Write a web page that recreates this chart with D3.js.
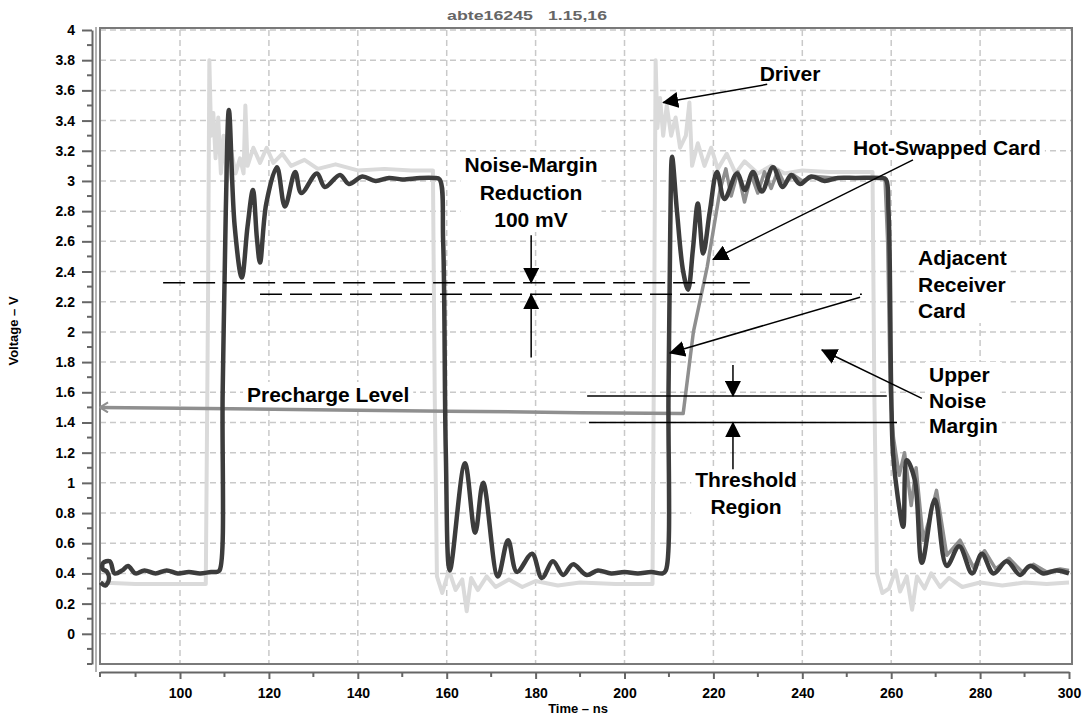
<!DOCTYPE html>
<html>
<head>
<meta charset="utf-8">
<script src="https://cdn.jsdelivr.net/npm/d3@7"></script>
<style>
  body { margin: 0; background: #fff; }
  svg { display: block; font-family: "Liberation Sans", Arial, sans-serif; }
</style>
</head>
<body>
<svg id="chart" width="1083" height="717"></svg>
<script>
// DATA SECTION

let xTicks = [100, 120, 140, 160, 180, 200, 220, 240, 260, 280, 300];
let yTicks = [0, 0.2, 0.4, 0.6, 0.8, 1, 1.2, 1.4, 1.6, 1.8, 2, 2.2, 2.4, 2.6, 2.8, 3, 3.2, 3.4, 3.6, 3.8, 4];
let titleParts = ['abte16245', '1.15,16'];

// [time ns, volts]
let driver = [
  [82,0.34],[90,0.33],[98,0.33],[105.8,0.33],[106.3,2.2],[106.6,3.8],[107.0,3.3],[107.5,3.45],
  [108.0,3.15],[108.6,3.42],[109.2,3.05],[109.8,3.3],[110.6,3.0],[111.5,3.2],[112.5,3.05],[113.5,3.15],
  [114.3,3.05],[114.7,3.5],[115.2,3.1],[116.5,3.22],[118,3.12],[119.5,3.22],[121,3.12],[123,3.18],
  [125,3.1],[128,3.14],[131,3.08],[135,3.11],[140,3.07],[146,3.08],[152,3.07],[156.9,3.07],
  [157.3,1.6],[157.8,0.38],[159,0.27],[160.5,0.42],[162,0.29],[163.5,0.36],[164.5,0.15],[165.5,0.37],
  [167,0.29],[169,0.38],[171,0.31],[174,0.36],[177,0.31],[180,0.35],[185,0.32],[190,0.34],
  [198,0.33],[206.3,0.33],[206.7,2.2],[207,3.8],[207.4,3.35],[208,3.55],[208.7,3.3],[209.5,3.5],
  [210.5,3.3],[211.5,3.42],[212.5,3.22],[213.8,3.3],[214.6,3.52],[215.2,3.1],[216.5,3.25],[218,3.1],
  [219.5,3.22],[221,3.08],[223,3.18],[225,3.05],[227,3.13],[230,3.05],[233,3.1],[236,3.05],
  [240,3.07],[246,3.06],[252,3.06],[255.8,3.06],[256.2,1.6],[256.8,0.4],[258,0.27],[259.5,0.3],
  [261,0.42],[262,0.28],[263.5,0.38],[264.7,0.16],[265.8,0.38],[267.5,0.3],[269,0.4],[271,0.31],
  [273,0.37],[276,0.31],[280,0.34],[285,0.32],[290,0.34],[295,0.33],[300,0.34]
];

let hotSwapped = [
  [82,1.5],[100,1.495],[130,1.485],[160,1.475],[190,1.465],[213.2,1.46],[215.5,2.0],[218.6,2.43],
  [221.5,2.94],[222.8,3.08],[224,2.9],[225.5,3.06],[227,2.86],[228.5,3.04],[230,2.92],[231.5,3.06],
  [233,2.95],[234.5,3.07],[236,2.98],[238,3.04],[240,3.0],[243,3.03],[247,3.02],[258.6,3.02],
  [259.2,2.6],[259.8,1.6],[260.5,1.3],[261.8,1.05],[263,1.2],[264.5,0.85],[265.6,1.1],[267.2,0.62],
  [268.5,0.75],[270.2,0.95],[272.5,0.52],[275.5,0.62],[278.5,0.44],[281,0.55],[283.5,0.43],[286.5,0.5],
  [289.5,0.41],[292,0.46],[295,0.41],[298,0.43],[300,0.42]
];

let adjacent = [
  [82.1,0.34],[83.2,0.32],[84.0,0.36],[83.6,0.41],[82.6,0.43],[82.7,0.47],[84.2,0.48],[85.3,0.40],
  [87,0.42],[88.3,0.45],[90,0.40],[92,0.42],[94.5,0.40],[97,0.42],[99.5,0.40],[102,0.41],
  [104.5,0.40],[107,0.41],[108.3,0.41],[108.9,0.42],[109.6,1.6],[110.3,2.8],[111,3.47],[112.3,2.7],[113.9,2.36],
  [115.2,2.7],[116.4,2.94],[117.3,2.62],[118,2.46],[119.4,2.85],[121.8,3.09],[123.6,2.83],[125.9,3.06],
  [127.3,2.92],[130.8,3.05],[132.6,2.96],[136,3.04],[138,2.98],[141,3.03],[144,3.0],[147,3.02],
  [150,3.01],[154,3.02],[157.2,3.02],[158.4,3.01],[159.2,2.6],[159.8,1.2],[160.7,0.42],[164.1,1.13],[166.4,0.67],
  [168.2,1.0],[171.5,0.38],[173.8,0.62],[175.8,0.41],[179.2,0.53],[181.4,0.37],[183.9,0.48],[186.2,0.39],
  [188.4,0.46],[191.5,0.39],[194,0.42],[197,0.4],[200,0.41],[203,0.4],[206,0.41],[208.6,0.4],[209.3,0.42],
  [209.9,1.6],[210.3,2.7],[210.7,3.16],[211.8,2.8],[213.2,2.4],[214.3,2.28],[215.4,2.55],[216.5,2.85],
  [217.7,2.52],[219.2,2.8],[220.8,3.06],[222.5,2.88],[225.3,3.05],[227.1,2.94],[228.9,3.06],[230.9,2.93],
  [233.4,3.09],[235.6,2.96],[237.5,3.04],[239.5,2.98],[242,3.03],[245,3.0],[248,3.02],[252,3.02],
  [257.6,3.02],[258.8,3.01],[259.4,2.8],[260.0,1.6],[260.4,1.2],[261.5,0.9],[262.7,0.71],[263.5,1.15],[265.3,1.02],
  [266.9,0.47],[269.8,0.89],[272.5,0.45],[275.3,0.58],[278.2,0.4],[280.4,0.53],[283,0.4],[286,0.48],
  [289,0.39],[291.2,0.45],[294.2,0.4],[297.3,0.42],[300,0.4]
];

let noiseMarginLevels = [2.325, 2.25];
let thresholdLevels = [1.575, 1.4];


// SETUP

let svg = d3.select('#chart');

let x = d3.scaleLinear().domain([82, 300]).range([100, 1069]);
let y = d3.scaleLinear().domain([-0.2, 4]).range([664, 30]);

let defs = svg.append('defs');
defs.append('marker')
  .attr('id', 'head')
  .attr('markerUnits', 'userSpaceOnUse')
  .attr('viewBox', '0 0 16 16')
  .attr('markerWidth', 16)
  .attr('markerHeight', 16)
  .attr('refX', 15)
  .attr('refY', 8)
  .attr('orient', 'auto')
  .append('path')
  .attr('d', 'M0,0 L16,8 L0,16 Z')
  .attr('fill', '#000');
defs.append('marker')
  .attr('id', 'chev')
  .attr('markerUnits', 'userSpaceOnUse')
  .attr('viewBox', '0 0 10 12')
  .attr('markerWidth', 10)
  .attr('markerHeight', 12)
  .attr('refX', 1)
  .attr('refY', 6)
  .attr('orient', 'auto')
  .append('path')
  .attr('d', 'M9,1 L1,6 L9,11')
  .attr('fill', 'none')
  .attr('stroke', '#8f8f8f')
  .attr('stroke-width', 2);

let gridG = svg.append('g').attr('class', 'grid');
let bgG = svg.append('g').attr('class', 'label-bg');
let frameG = svg.append('g').attr('class', 'frame');
let traceG = svg.append('g').attr('class', 'traces');
let annotG = svg.append('g').attr('class', 'annotations');
let textG = svg.append('g').attr('class', 'label-text');

// grid
gridG.selectAll('line.h')
  .data(yTicks)
  .join('line')
  .attr('class', 'h')
  .attr('x1', 100).attr('x2', 1072)
  .attr('y1', d => y(d)).attr('y2', d => y(d))
  .attr('stroke', '#c9c9c9')
  .attr('stroke-width', 1.5)
  .attr('stroke-dasharray', '6,4');
gridG.selectAll('line.v')
  .data(xTicks.filter(d => d < 300))
  .join('line')
  .attr('class', 'v')
  .attr('x1', d => x(d)).attr('x2', d => x(d))
  .attr('y1', 30).attr('y2', 664)
  .attr('stroke', '#c9c9c9')
  .attr('stroke-width', 1.5)
  .attr('stroke-dasharray', '6,4');

// frame
frameG.append('rect')
  .attr('x', 100).attr('y', 28)
  .attr('width', 972).attr('height', 636)
  .attr('fill', 'none')
  .attr('stroke', '#7a7a7a')
  .attr('stroke-width', 2);
frameG.append('line')
  .attr('x1', 96).attr('x2', 96).attr('y1', 27).attr('y2', 672)
  .attr('stroke', '#999').attr('stroke-width', 1.5);

// y axis
let yAxis = svg.append('g')
  .attr('transform', 'translate(92,0)')
  .call(d3.axisLeft(y).tickValues(yTicks).tickSize(10).tickSizeOuter(0).tickPadding(7).tickFormat(d3.format('~g')));
yAxis.select('.domain').attr('stroke', '#666').attr('stroke-width', 2);
yAxis.selectAll('.tick line').attr('stroke', '#666').attr('stroke-width', 2);
yAxis.selectAll('.tick text')
  .attr('font-family', '"Liberation Sans", Arial, sans-serif')
  .attr('font-size', 14)
  .attr('font-weight', 'bold')
  .attr('fill', '#000');
yAxis.selectAll('line.minor')
  .data(d3.range(-0.1, 4, 0.2).concat([-0.2]))
  .join('line')
  .attr('class', 'minor')
  .attr('x1', -5).attr('x2', 0)
  .attr('y1', d => y(d)).attr('y2', d => y(d))
  .attr('stroke', '#666').attr('stroke-width', 2);

// x axis
let xAxis = svg.append('g')
  .attr('transform', 'translate(0,672)')
  .call(d3.axisBottom(x).tickValues(xTicks).tickSize(7).tickSizeOuter(0).tickPadding(9));
xAxis.select('.domain').attr('stroke', '#666').attr('stroke-width', 2);
xAxis.selectAll('.tick line').attr('stroke', '#666').attr('stroke-width', 2);
xAxis.selectAll('.tick text')
  .attr('font-family', '"Liberation Sans", Arial, sans-serif')
  .attr('font-size', 14)
  .attr('font-weight', 'bold')
  .attr('fill', '#000');
xAxis.selectAll('line.minor')
  .data([82].concat(d3.range(90, 300, 20)))
  .join('line')
  .attr('class', 'minor')
  .attr('x1', d => x(d)).attr('x2', d => x(d))
  .attr('y1', 0).attr('y2', 5)
  .attr('stroke', '#666').attr('stroke-width', 2);

// axis titles
svg.append('text')
  .attr('x', 578).attr('y', 713)
  .attr('text-anchor', 'middle')
  .attr('font-size', 13).attr('font-weight', 'bold')
  .text('Time \u2013 ns');
svg.append('text')
  .attr('transform', 'translate(18,331) rotate(-90)')
  .attr('text-anchor', 'middle')
  .attr('font-size', 13).attr('font-weight', 'bold')
  .text('Voltage \u2013 V');

// title
svg.append('text')
  .attr('x', 447).attr('y', 20)
  .attr('font-size', 12).attr('font-weight', 'bold').attr('fill', '#666')
  .attr('textLength', 86).attr('lengthAdjust', 'spacingAndGlyphs')
  .text(titleParts[0]);
svg.append('text')
  .attr('x', 548).attr('y', 20)
  .attr('font-size', 12).attr('font-weight', 'bold').attr('fill', '#666')
  .attr('textLength', 59).attr('lengthAdjust', 'spacingAndGlyphs')
  .text(titleParts[1]);


// RENDER SECTION

let smooth = d3.line()
  .x(d => x(d[0]))
  .y(d => y(d[1]))
  .curve(d3.curveCatmullRom.alpha(0.5));
let sharp = d3.line()
  .x(d => x(d[0]))
  .y(d => y(d[1]));

traceG.append('path')
  .attr('d', sharp(driver))
  .attr('fill', 'none')
  .attr('stroke', '#dadada')
  .attr('stroke-width', 4)
  .attr('stroke-linejoin', 'round');
traceG.append('path')
  .attr('d', sharp(hotSwapped))
  .attr('fill', 'none')
  .attr('stroke', '#8f8f8f')
  .attr('stroke-width', 3.5)
  .attr('stroke-linejoin', 'round')
  .attr('marker-start', 'url(#chev)');
traceG.append('path')
  .attr('d', smooth(adjacent))
  .attr('fill', 'none')
  .attr('stroke', '#3c3c3c')
  .attr('stroke-width', 4.5)
  .attr('stroke-linejoin', 'round');

// noise margin dashed levels and threshold lines
let nmSpans = [[96.2, 228.2], [118, 253.4]];
annotG.selectAll('line.nm')
  .data(noiseMarginLevels)
  .join('line')
  .attr('class', 'nm')
  .attr('x1', (d, i) => x(nmSpans[i][0])).attr('x2', (d, i) => x(nmSpans[i][1]))
  .attr('y1', d => y(d)).attr('y2', d => y(d))
  .attr('stroke', '#000').attr('stroke-width', 1.5)
  .attr('stroke-dasharray', '22,8');
let thSpans = [[191.6, 259.0], [192, 261.3]];
annotG.selectAll('line.th')
  .data(thresholdLevels)
  .join('line')
  .attr('class', 'th')
  .attr('x1', (d, i) => x(thSpans[i][0])).attr('x2', (d, i) => x(thSpans[i][1]))
  .attr('y1', d => y(d)).attr('y2', d => y(d))
  .attr('stroke', '#000').attr('stroke-width', 1.5);

function addArrow(t1, v1, t2, v2) {
  annotG.append('line')
    .attr('x1', x(t1)).attr('y1', y(v1))
    .attr('x2', x(t2)).attr('y2', y(v2))
    .attr('stroke', '#000')
    .attr('stroke-width', 1.5)
    .attr('marker-end', 'url(#head)');
}

addArrow(232.1, 3.64, 208.7, 3.52);     // Driver
addArrow(264.9, 3.14, 219.9, 2.48);     // Hot-Swapped Card
addArrow(253.0, 2.23, 210.2, 1.86);     // Adjacent Receiver Card
addArrow(266.9, 1.56, 244.4, 1.88);     // Upper Noise Margin
addArrow(179, 2.64, 179, noiseMarginLevels[0]);
addArrow(179, 1.83, 179, noiseMarginLevels[1]);
addArrow(224.4, 1.78, 224.4, thresholdLevels[0]);
addArrow(224.4, 1.09, 224.4, thresholdLevels[1]);

function addLabel(lines, px, py, anchor, lh, withBg) {
  let t = textG.append('text')
    .attr('x', px).attr('y', py)
    .attr('text-anchor', anchor)
    .attr('font-size', 21)
    .attr('font-weight', 'bold')
    .attr('fill', '#000');
  lines.forEach((s, i) => t.append('tspan').attr('x', px).attr('dy', i ? lh : 0).text(s));
  if (withBg) {
    let b = t.node().getBBox();
    bgG.append('rect')
      .attr('x', b.x - 4).attr('y', b.y - 1)
      .attr('width', b.width + 8).attr('height', b.height + 2)
      .attr('fill', '#fff');
  }
}

addLabel(['Driver'], 790, 81, 'middle', 0, true);
addLabel(['Hot-Swapped Card'], 853, 155, 'start', 0, true);
addLabel(['Noise-Margin', 'Reduction', '100 mV'], 531, 172, 'middle', 27.5, true);
addLabel(['Adjacent', 'Receiver', 'Card'], 918, 265, 'start', 26.5, true);
addLabel(['Upper', 'Noise', 'Margin'], 929, 382, 'start', 25.5, true);
addLabel(['Precharge Level'], 247, 402, 'start', 0, true);
addLabel(['Threshold', 'Region'], 746, 487, 'middle', 26.5, true);
</script>
</body>
</html>
